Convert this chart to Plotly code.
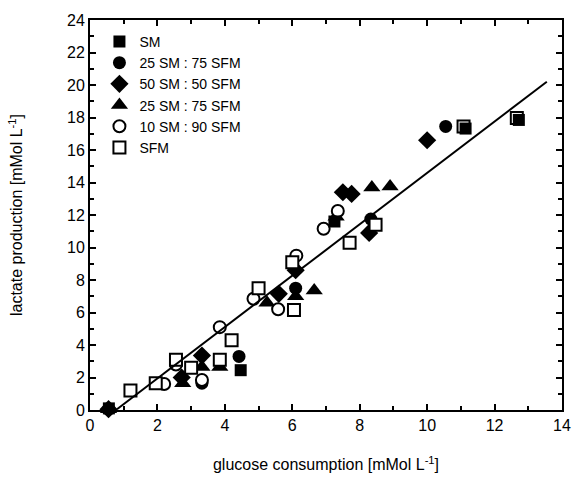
import plotly.graph_objects as go

# Glucose consumption (x) vs lactate production (y), mMol/L, per medium
sm_x = [12.72, 11.14, 7.25, 4.47, 0.56]
sm_y = [17.85, 17.32, 11.6, 2.45, 0.1]

c25_x = [10.55, 8.33, 6.1, 4.42, 3.32, 0.55]
c25_y = [17.45, 11.75, 7.5, 3.3, 1.65, 0.05]

d50_x = [10.0, 7.5, 7.76, 8.28, 6.1, 5.6, 3.32, 2.72, 0.55]
d50_y = [16.6, 13.4, 13.3, 10.9, 8.6, 7.15, 3.35, 2.0, 0.05]

t25_x = [8.9, 8.36, 7.3, 6.65, 6.1, 5.25, 3.85, 3.32, 2.75, 0.55]
t25_y = [13.75, 13.7, 11.9, 7.35, 7.0, 6.6, 2.65, 2.65, 1.65, 0.05]

o10_x = [7.35, 6.93, 6.12, 4.85, 5.58, 3.85, 3.32, 2.55, 2.2]
o10_y = [12.25, 11.15, 9.5, 6.85, 6.2, 5.1, 1.85, 2.8, 1.6]

sfm_x = [12.66, 11.08, 8.47, 7.7, 6.0, 5.0, 6.05, 4.2, 3.85, 3.0, 2.55, 1.95, 1.2, 0.55]
sfm_y = [17.97, 17.44, 11.4, 10.3, 9.1, 7.5, 6.15, 4.3, 3.1, 2.6, 3.1, 1.65, 1.2, -0.2]

# Linear fit through all media
fit_x = [0.8, 13.55]
fit_y = [0.05, 20.2]

FONT = "Liberation Sans, Arial, sans-serif"

fig = go.Figure()

series = [
    # name, x, y, symbol, filled, legend rank, marker size
    ("50 SM : 50 SFM", d50_x, d50_y, "diamond", True, 3, 14),
    ("25 SM : 75 SFM", t25_x, t25_y, "triangle-up", True, 4, 15),
    ("25 SM : 75 SFM", c25_x, c25_y, "circle", True, 2, 13),
    ("10 SM : 90 SFM", o10_x, o10_y, "circle", False, 5, 12),
    ("SFM", sfm_x, sfm_y, "square", False, 6, 12),
    ("SM", sm_x, sm_y, "square", True, 1, 12),
]

for name, xs, ys, sym, filled, rank, size in series:
    fig.add_trace(go.Scatter(
        x=xs, y=ys, mode="markers", name=name, legendrank=rank,
        cliponaxis=False,
        marker=dict(
            symbol=sym, size=size,
            color="black" if filled else "white",
            line=dict(color="black", width=0 if filled else 2),
        ),
    ))

fig.add_trace(go.Scatter(
    x=fit_x, y=fit_y, mode="lines", showlegend=False,
    line=dict(color="black", width=2),
))

axis_common = dict(
    showgrid=False, zeroline=False, showline=True, linecolor="black",
    linewidth=2, mirror="allticks", ticks="inside", ticklen=6,
    tickwidth=2, tickcolor="black", automargin=False,
    tickfont=dict(family=FONT, size=16, color="black"),
    minor=dict(ticks="inside", ticklen=4, tickwidth=2, tickcolor="black", dtick=1),
)

fig.update_xaxes(
    range=[0, 14], dtick=2, tick0=0,
    title=dict(text="glucose consumption [mMol L<sup>-1</sup>]",
               font=dict(family=FONT, size=16, color="black"), standoff=26),
    **axis_common,
)
fig.update_yaxes(
    range=[0, 24], dtick=2, tick0=0,
    title=dict(text="lactate production [mMol L<sup>-1</sup>]",
               font=dict(family=FONT, size=16, color="black"), standoff=40),
    **axis_common,
)

fig.update_layout(
    width=576, height=478,
    margin=dict(l=90, r=14, t=20, b=68),
    paper_bgcolor="white", plot_bgcolor="white",
    showlegend=True,
    legend=dict(
        x=0.02, y=0.985, xanchor="left", yanchor="top",
        bgcolor="rgba(0,0,0,0)", borderwidth=0,
        font=dict(family=FONT, size=14, color="black"),
        tracegroupgap=0, itemwidth=30,
    ),
)

fig.write_html("out.html")
